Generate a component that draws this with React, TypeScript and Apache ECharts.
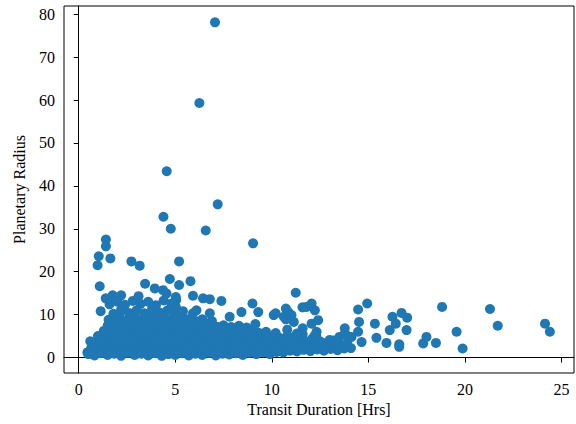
import React, { useEffect, useRef } from "react";
import * as echarts from "echarts";

// Planetary radius vs transit duration [hours, radius]
const outliers: number[][] = [
  [7.06, 78.1], [6.25, 59.3], [4.56, 43.4], [7.2, 35.7], [4.39, 32.8],
  [4.77, 30.0], [6.58, 29.6], [9.03, 26.6], [1.41, 27.5], [1.41, 25.9],
  [1.04, 23.6], [1.64, 23.1], [0.98, 21.5], [2.73, 22.4], [3.16, 21.4],
  [5.2, 22.4], [4.72, 18.3], [5.79, 17.8], [1.09, 16.6], [3.44, 17.2],
  [5.2, 16.9], [3.94, 16.1], [4.37, 15.7],
];

const upperBand: number[][] = [
  [1.4, 13.8], [1.76, 14.5], [2.2, 14.5], [3.1, 14.3], [4.55, 14.9],
  [5.05, 13.4], [5.03, 14.1], [5.92, 14.4], [6.44, 13.8], [6.79, 13.6],
  [7.39, 13.2], [9.0, 12.6], [10.1, 9.9], [8.43, 10.6], [9.3, 10.6],
  [9.15, 7.8], [1.14, 10.8], [7.82, 9.5], [6.79, 10.3], [6.1, 11.0],
  [5.92, 10.3], [5.03, 11.8],
  [1.6, 12.4], [2.0, 13.0], [2.4, 12.3], [2.8, 13.2], [3.2, 12.5],
  [3.6, 13.0], [4.0, 12.2], [4.4, 13.3], [4.8, 12.6],
  [1.8, 10.2], [2.2, 11.2], [2.6, 10.4], [3.0, 11.0], [3.4, 10.3],
  [3.8, 11.3], [4.2, 10.5], [4.6, 11.0], [5.0, 10.2], [5.4, 10.8],
];

const layerLow: number[][] = [
  [0.45, 1.2], [0.6, 3.8], [0.5, 0.8], [0.82, 0.5], [1.15, 1.0], [1.5, 0.6], [1.85, 0.9],
  [2.2, 0.4], [2.55, 1.1], [2.9, 0.6], [3.25, 0.9], [3.6, 0.5], [3.95, 1.0],
  [4.3, 0.4], [4.65, 0.8], [5.0, 0.6], [5.35, 1.0], [5.7, 0.5], [6.05, 0.9],
  [6.4, 0.6], [6.75, 1.1], [7.1, 0.5], [7.45, 0.9], [7.8, 0.7], [8.15, 1.0],
  [8.5, 0.6], [8.85, 1.1], [9.2, 0.8], [9.55, 1.2], [9.9, 0.8], [10.25, 1.3],
  [10.6, 1.2], [10.95, 1.6], [11.3, 1.4], [11.65, 1.8], [12.0, 1.5],
  [12.35, 1.9], [12.7, 1.6], [13.05, 2.0], [13.4, 1.7], [13.75, 2.1], [14.1, 2.2],
  [0.65, 2.2], [1.0, 1.8], [1.35, 2.4], [1.7, 2.0], [2.05, 2.5], [2.4, 1.9],
  [2.75, 2.3], [3.1, 2.0], [3.45, 2.6], [3.8, 2.1], [4.15, 2.4], [4.5, 1.9],
  [4.85, 2.5], [5.2, 2.1], [5.55, 2.4], [5.9, 2.0], [6.25, 2.6], [6.6, 2.2],
  [6.95, 2.4], [7.3, 2.0], [7.65, 2.5], [8.0, 2.2], [8.35, 2.6], [8.7, 2.1],
  [9.05, 2.5], [9.4, 2.2], [9.75, 2.7], [10.1, 2.3], [10.45, 2.8], [10.8, 2.5],
  [11.15, 2.9], [11.5, 2.6], [11.85, 3.0], [12.2, 2.7], [12.55, 3.1],
  [12.9, 2.6], [13.25, 3.2], [13.6, 2.9], [13.9, 3.3],
];

const fillLow: number[][] = [
  [0.7, 1.4], [1.3, 1.6], [1.7, 1.3], [2.05, 1.5], [2.4, 1.3], [2.75, 1.6],
  [3.1, 1.3], [3.45, 1.5], [3.8, 1.4], [4.15, 1.6], [4.5, 1.3], [4.85, 1.5],
  [5.2, 1.4], [5.55, 1.6], [5.9, 1.3], [6.25, 1.5], [6.6, 1.4], [6.95, 1.6],
  [7.3, 1.3], [7.65, 1.5], [8.0, 1.4], [8.35, 1.6], [8.7, 1.5], [9.05, 1.6],
  [9.4, 1.5], [9.75, 1.8], [10.1, 1.7], [10.45, 2.0], [10.8, 2.1],
  [0.9, 2.9], [1.25, 3.0], [1.6, 2.8], [1.95, 3.0], [2.3, 2.8], [2.65, 3.0],
  [3.0, 2.8], [3.35, 3.1], [3.7, 2.8], [4.05, 3.0], [4.4, 2.9], [4.75, 3.1],
  [5.1, 2.8], [5.45, 3.0], [5.8, 2.9], [6.15, 3.1], [6.5, 2.8], [6.85, 3.0],
  [7.2, 2.9], [7.55, 3.1], [7.9, 2.8], [8.25, 3.0], [8.6, 2.9], [8.95, 3.1],
  [9.3, 3.0], [9.65, 3.2], [10.0, 3.1], [10.35, 3.3], [10.7, 3.2], [11.05, 3.4],
];

const layerMid: number[][] = [
  [0.75, 3.5], [1.1, 3.2], [1.45, 3.8], [1.8, 3.4], [2.15, 3.7], [2.5, 3.3],
  [2.85, 3.9], [3.2, 3.4], [3.55, 3.7], [3.9, 3.3], [4.25, 3.8], [4.6, 3.5],
  [4.95, 3.9], [5.3, 3.4], [5.65, 3.7], [6.0, 3.3], [6.35, 3.8], [6.7, 3.5],
  [7.05, 3.9], [7.4, 3.4], [7.75, 3.7], [8.1, 3.3], [8.45, 3.8], [8.8, 3.5],
  [9.15, 3.9], [9.5, 3.6], [9.85, 4.0], [10.2, 3.7], [10.55, 4.1], [10.9, 3.8],
  [11.3, 4.3], [11.7, 3.9], [12.1, 4.4], [12.5, 3.8], [13.0, 4.1], [13.3, 3.5],
  [1.0, 5.0], [1.3, 4.6], [1.65, 5.2], [2.0, 4.8], [2.35, 5.3], [2.7, 4.7],
  [3.05, 5.1], [3.4, 4.6], [3.75, 5.2], [4.1, 4.8], [4.45, 5.3], [4.8, 4.7],
  [5.15, 5.1], [5.5, 4.6], [5.85, 5.2], [6.2, 4.8], [6.55, 5.3], [6.9, 4.7],
  [7.25, 5.0], [7.6, 4.6], [7.95, 5.2], [8.3, 4.7], [8.65, 5.1], [9.0, 4.6],
  [9.35, 5.0], [9.7, 4.5], [10.05, 4.9], [10.4, 4.6], [10.8, 5.0], [11.6, 5.4],
  [12.3, 5.2],
];

const fillMid: number[][] = [
  [1.15, 4.2], [1.5, 4.3], [1.85, 4.1], [2.2, 4.3], [2.55, 4.1], [2.9, 4.4],
  [3.25, 4.1], [3.6, 4.3], [3.95, 4.2], [4.3, 4.4], [4.65, 4.1], [5.0, 4.3],
  [5.35, 4.2], [5.7, 4.4], [6.05, 4.1], [6.4, 4.3], [6.75, 4.2], [7.1, 4.4],
  [7.45, 4.1], [7.8, 4.3], [8.15, 4.2], [8.5, 4.3], [8.85, 4.1], [9.2, 4.3],
  [9.55, 4.2], [9.9, 4.4], [10.6, 4.3], [11.1, 4.6],
  [1.45, 5.6], [1.8, 5.7], [2.15, 5.5], [2.5, 5.8], [2.85, 5.6], [3.2, 5.8],
  [3.55, 5.5], [3.9, 5.7], [4.25, 5.6], [4.6, 5.8], [4.95, 5.5], [5.3, 5.7],
  [5.65, 5.6], [6.0, 5.8], [6.35, 5.5], [6.7, 5.7], [7.05, 5.6], [7.4, 5.8],
  [7.75, 5.5], [8.1, 5.7], [8.45, 5.4], [8.8, 5.6], [9.15, 5.3], [9.5, 5.4],
];

const layerHigh: number[][] = [
  [1.3, 6.2], [1.6, 5.9], [1.95, 6.4], [2.3, 6.0], [2.65, 6.6], [3.0, 6.1],
  [3.35, 6.5], [3.7, 6.0], [4.05, 6.6], [4.4, 6.2], [4.75, 6.5], [5.1, 6.0],
  [5.45, 6.4], [5.8, 6.1], [6.15, 6.5], [6.5, 6.0], [6.85, 6.4], [7.2, 6.1],
  [7.55, 6.5], [7.9, 6.0], [8.25, 6.3], [8.6, 5.9], [8.95, 6.2], [9.3, 5.8],
  [9.7, 6.0], [10.2, 5.7],
  [1.5, 7.4], [1.9, 7.8], [2.25, 7.3], [2.6, 7.9], [2.95, 7.4], [3.3, 7.8],
  [3.65, 7.2], [4.0, 7.7], [4.35, 7.3], [4.7, 7.9], [5.05, 7.4], [5.4, 7.7],
  [5.75, 7.2], [6.1, 7.6], [6.45, 7.3], [6.8, 7.7], [7.15, 7.2], [7.5, 7.5],
  [7.9, 7.1], [8.3, 7.4], [8.7, 7.0],
  [1.55, 8.8], [2.0, 9.0], [2.4, 8.6], [2.75, 9.2], [3.1, 8.7], [3.45, 9.1],
  [3.8, 8.6], [4.15, 9.2], [4.5, 8.8], [4.85, 9.0], [5.2, 8.5], [5.6, 8.9],
  [6.0, 8.6], [6.4, 8.9], [6.9, 8.5],
];

const fillHigh: number[][] = [
  [1.75, 6.8], [2.1, 7.0], [2.45, 6.8], [2.8, 7.1], [3.15, 6.9], [3.5, 7.0],
  [3.85, 6.8], [4.2, 7.1], [4.55, 6.9], [4.9, 7.0], [5.25, 6.8], [5.6, 7.0],
  [5.95, 6.9], [6.3, 6.8], [6.65, 7.0], [7.0, 6.8], [7.35, 6.9], [7.7, 6.7],
  [8.05, 6.8], [8.45, 6.6],
  [1.8, 8.2], [2.15, 8.1], [2.55, 8.3], [2.9, 8.0], [3.3, 8.3], [3.65, 8.1],
  [4.0, 8.3], [4.35, 8.0], [4.7, 8.3], [5.0, 8.1], [5.4, 8.2], [5.8, 8.0],
  [6.2, 8.1], [6.6, 8.0],
  [2.1, 9.8], [2.9, 9.7], [3.6, 9.9], [4.4, 9.7], [5.2, 9.6], [4.0, 10.0],
];

const rightTail: number[][] = [
  [10.2, 10.3], [10.85, 10.6], [10.73, 8.9], [11.14, 8.3], [11.24, 15.1],
  [11.59, 11.7], [11.8, 11.8], [12.06, 12.6], [12.23, 11.0], [12.06, 7.9],
  [12.4, 8.7], [12.32, 6.0], [12.23, 5.2], [10.62, 9.5], [10.73, 11.4],
  [11.02, 9.9], [11.6, 6.8], [10.8, 6.5], [11.3, 5.6],
  [13.2, 4.0], [13.5, 4.8], [13.87, 5.2], [12.9, 3.6], [13.78, 6.8],
  [13.78, 5.6], [14.13, 4.8], [14.47, 11.2], [14.94, 12.6], [14.52, 8.3],
  [14.47, 6.0], [14.65, 3.6], [15.34, 7.9], [15.42, 4.6], [15.94, 3.4],
  [16.11, 6.4], [16.25, 9.5], [16.42, 7.9], [16.72, 10.4], [17.01, 9.3],
  [16.98, 6.4], [16.6, 3.1], [16.6, 2.5], [17.84, 3.3], [18.01, 4.8],
  [18.5, 3.4], [18.82, 11.8], [19.57, 6.0], [19.88, 2.1], [21.3, 11.3],
  [21.7, 7.4], [24.15, 7.9], [24.4, 6.0],
];

const xTicks = [0, 5, 10, 15, 20, 25];
const yTicks = [0, 10, 20, 30, 40, 50, 60, 70, 80];

const FONT = "'Liberation Serif', 'Times New Roman', serif";

export default function App() {
  const ref = useRef<HTMLDivElement>(null);
  useEffect(() => {
    if (!ref.current) return;
    const chart = echarts.init(ref.current, null, { renderer: "svg" });
    const data = [
      ...layerLow, ...fillLow, ...layerMid, ...fillMid, ...layerHigh, ...fillHigh,
      ...upperBand, ...rightTail, ...outliers,
    ];
    chart.setOption({
      animation: false,
      backgroundColor: "#ffffff",
      grid: {
        left: 64,
        right: 2,
        top: 6,
        bottom: 51,
        show: true,
        borderColor: "#000",
        borderWidth: 1,
        backgroundColor: "transparent",
      },
      xAxis: {
        type: "value",
        min: -0.76,
        max: 25.65,
        name: "Transit Duration [Hrs]",
        nameLocation: "middle",
        nameGap: 20,
        nameTextStyle: { fontFamily: FONT, fontSize: 16, color: "#000" },
        splitLine: { show: false },
        axisLine: { show: true, lineStyle: { color: "#000", width: 1 } },
        axisTick: { show: true, inside: false, length: 5, lineStyle: { color: "#000" }, customValues: xTicks },
        axisLabel: { fontFamily: FONT, fontSize: 16, color: "#000", margin: 8, customValues: xTicks },
      },
      yAxis: {
        type: "value",
        min: -3.6,
        max: 81.9,
        name: "Planetary Radius",
        nameLocation: "middle",
        nameGap: 37,
        nameTextStyle: { fontFamily: FONT, fontSize: 16, color: "#000" },
        splitLine: { show: false },
        axisLine: { show: true, lineStyle: { color: "#000", width: 1 } },
        axisTick: { show: true, inside: false, length: 5, lineStyle: { color: "#000" }, customValues: yTicks },
        axisLabel: { fontFamily: FONT, fontSize: 16, color: "#000", margin: 9, customValues: yTicks },
      },
      series: [
        {
          type: "scatter",
          data,
          symbol: "circle",
          symbolSize: 10,
          itemStyle: { color: "#1f77b4", opacity: 1 },
        },
      ],
    });
    return () => chart.dispose();
  }, []);
  return (
    <div
      ref={ref}
      style={{ position: "fixed", left: 0, top: 0, width: 576, height: 424, background: "#fff" }}
    />
  );
}
